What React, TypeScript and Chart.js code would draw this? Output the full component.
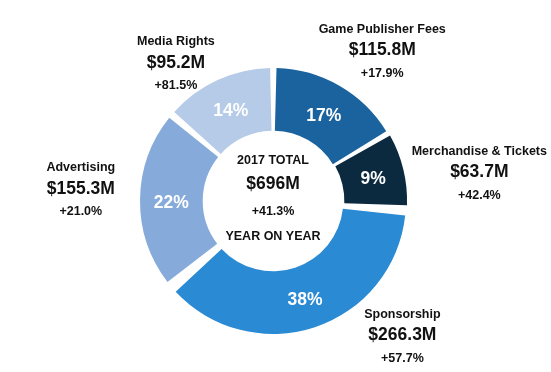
import React, { useEffect, useRef } from 'react';
import { Chart, registerables } from 'chart.js';

Chart.register(...registerables);

// ---- Data ----
const categories = ['Game Publisher Fees', 'Merchandise & Tickets', 'Sponsorship', 'Advertising', 'Media Rights'];
const revenueLabels = ['$115.8M', '$63.7M', '$266.3M', '$155.3M', '$95.2M'];
const revenue = [115.8, 63.7, 266.3, 155.3, 95.2];
const growth = ['+17.9%', '+42.4%', '+57.7%', '+21.0%', '+81.5%'];
const totalTitle = '2017 TOTAL';
const totalGrowth = '+41.3%';
const totalSubtitle = 'YEAR ON YEAR';

// ---- Styles / layout ----
const colors = ['#1b639e', '#0b2a40', '#2a8ad4', '#86abdb', '#b5cbe8'];
const sliceOffsets = [0, 3, 0, 0, 0];
// label block anchors, relative to doughnut centre in units of chart-area half size
const labelAnchors: [number, number][] = [
  [0.812, -1.118],
  [1.534, -0.215],
  [0.962, 1.0],
  [-1.429, -0.09],
  [-0.722, -1.028],
];
const FONT = '"Liberation Sans", Arial, Helvetica, sans-serif';
const TEXT = '#111111';

const labelsPlugin = {
  id: 'customLabels',
  afterDatasetsDraw(chart: any) {
    const ctx = chart.ctx as CanvasRenderingContext2D;
    const meta = chart.getDatasetMeta(0);
    const total = revenue.reduce((a, b) => a + b, 0);
    const area = chart.chartArea;
    const cx = (area.left + area.right) / 2;
    const cy = (area.top + area.bottom) / 2;
    const r = Math.min(area.right - area.left, area.bottom - area.top) / 2;

    ctx.save();
    ctx.textAlign = 'center';
    ctx.textBaseline = 'middle';

    // percentages on slices
    meta.data.forEach((arc: any, i: number) => {
      const p = arc.tooltipPosition(true);
      ctx.fillStyle = '#ffffff';
      ctx.font = `bold 17.5px ${FONT}`;
      ctx.fillText(Math.round((revenue[i] / total) * 100) + '%', p.x, p.y + 3);
    });

    // outer label blocks
    categories.forEach((name, i) => {
      const ax = cx + labelAnchors[i][0] * r;
      const ay = cy + labelAnchors[i][1] * r;
      ctx.fillStyle = TEXT;
      ctx.font = `bold 12.5px ${FONT}`;
      ctx.fillText(name, ax, ay - 21);
      ctx.font = `bold 17.5px ${FONT}`;
      ctx.fillText(revenueLabels[i], ax, ay);
      ctx.font = `bold 12.5px ${FONT}`;
      ctx.fillText(growth[i], ax, ay + 23);
    });

    // centre text
    ctx.fillStyle = TEXT;
    ctx.font = `bold 12.5px ${FONT}`;
    ctx.fillText(totalTitle, cx, cy - 40);
    ctx.font = `bold 17.5px ${FONT}`;
    ctx.fillText('$' + Math.round(total) + 'M', cx, cy - 17);
    ctx.font = `bold 12.5px ${FONT}`;
    ctx.fillText(totalGrowth, cx, cy + 11);
    ctx.font = `bold 12.5px ${FONT}`;
    ctx.fillText(totalSubtitle, cx, cy + 36);
    ctx.restore();
  },
};

export default function App() {
  const canvasRef = useRef<HTMLCanvasElement | null>(null);

  useEffect(() => {
    if (!canvasRef.current) return;
    const chart = new Chart(canvasRef.current, {
      type: 'doughnut',
      data: {
        labels: categories,
        datasets: [
          {
            data: revenue,
            backgroundColor: colors,
            borderWidth: 0,
            spacing: 10,
            offset: sliceOffsets,
          },
        ],
      },
      options: {
        animation: false,
        responsive: true,
        maintainAspectRatio: false,
        cutout: '51%',
        rotation: 0,
        layout: { padding: { top: 66.5, bottom: 36.5, left: 138.5, right: 143.5 } },
        plugins: {
          legend: { display: false },
          tooltip: { enabled: false },
        },
      },
      plugins: [labelsPlugin],
    });
    return () => chart.destroy();
  }, []);

  return (
    <div style={{ position: 'fixed', left: 0, top: 0, width: 551, height: 372, background: '#ffffff' }}>
      <canvas ref={canvasRef} />
    </div>
  );
}
